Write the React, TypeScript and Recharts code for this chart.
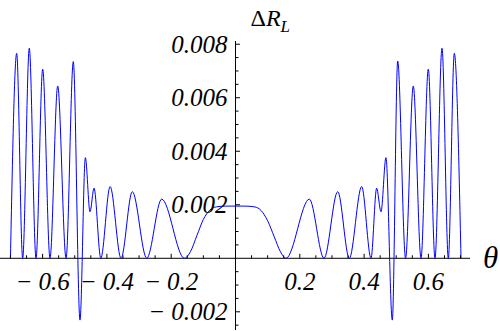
import { LineChart, Line, XAxis, YAxis, ReferenceLine, ReferenceDot } from "recharts";

// ΔR_L against θ (zeros, peaks, local minima)
const theta = [
  -0.7, -0.6806, -0.662, -0.6414, -0.6205, -0.5997, -0.577, -0.553, -0.527, -0.5045,
  -0.4837, -0.467, -0.4526, -0.44, -0.419, -0.39, -0.356, -0.321, -0.276, -0.2296,
  -0.159, -0.14, -0.12, -0.1, -0.08, -0.06, -0.03, 0, 0.03, 0.06, 0.08, 0.1, 0.12, 0.14,
  0.157, 0.2296, 0.2753, 0.318, 0.354, 0.3925, 0.4215, 0.439, 0.4526, 0.468, 0.4877,
  0.5045, 0.529, 0.553, 0.577, 0.5997, 0.6205, 0.6423, 0.662, 0.6806, 0.7014,
];
const deltaR = [
  0, 0.00766, 0, 0.00785, 0, 0.00707, 0, 0.00644, 0, 0.00735,
  -0.00231, 0.00376, 0.00174, 0.00262, 0, 0.00268, 0, 0.00249, 0, 0.00221,
  0, 0.00025, 0.00085, 0.00145, 0.0018, 0.00192, 0.00195, 0.00195, 0.00195, 0.00192, 0.00178, 0.0014, 0.00082, 0.00024,
  0, 0.00221, 0, 0.00249, 0, 0.00268, 0, 0.00262, 0.00174, 0.00376, -0.00231,
  0.00737, 0, 0.00644, 0, 0.00707, 0, 0.00785, 0, 0.00766, 0,
];

const xMajor = [-0.6, -0.4, -0.2, 0.2, 0.4, 0.6];
const xMajorLabels = ["−0.6", "−0.4", "−0.2", "0.2", "0.4", "0.6"];
const xMinor = [
  -0.7, -0.65, -0.55, -0.5, -0.45, -0.35, -0.3, -0.25, -0.15, -0.1, -0.05,
  0.05, 0.1, 0.15, 0.25, 0.3, 0.35, 0.45, 0.5, 0.55, 0.65, 0.7,
];
const yMajor = [-0.002, 0.002, 0.004, 0.006, 0.008];
const yMajorLabels = ["−0.002", "0.002", "0.004", "0.006", "0.008"];
const yMinor = [
  -0.0025, -0.0015, -0.001, -0.0005, 0.0005, 0.001, 0.0015, 0.0025, 0.003, 0.0035,
  0.0045, 0.005, 0.0055, 0.0065, 0.007, 0.0075,
];

const X_DOMAIN: [number, number] = [-0.7325, 0.7294];
const Y_DOMAIN: [number, number] = [-0.00268, 0.00812];

const data = theta.map((t, i) => ({ t, v: deltaR[i] }));

const SERIF = "Times New Roman, Liberation Serif, Times, Nimbus Roman, DejaVu Serif, serif";

function TickLabel({ x, y, text, anchor }: { x: number; y: number; text: string; anchor: "middle" | "end" }) {
  const neg = text.startsWith("−");
  return (
    <text x={x} y={y} textAnchor={anchor} fontFamily={SERIF} fontStyle="italic" fontSize={25} fill="#000">
      {neg ? (
        <>
          <tspan>−</tspan>
          <tspan dx={6}>{text.slice(1)}</tspan>
        </>
      ) : (
        text
      )}
    </text>
  );
}

const xTick = (len: number, label?: string) => (p: any) => (
  <g>
    <line x1={p.cx} x2={p.cx} y1={p.cy} y2={p.cy - len} stroke="#000" strokeWidth={1} />
    {label && <TickLabel x={p.cx} y={p.cy + 31.5} text={label} anchor="middle" />}
  </g>
);

const yTick = (len: number, label?: string) => (p: any) => (
  <g>
    <line x1={p.cx} x2={p.cx + len} y1={p.cy} y2={p.cy} stroke="#000" strokeWidth={1} />
    {label && <TickLabel x={p.cx - 8} y={p.cy + 8.5} text={label} anchor="end" />}
  </g>
);

const yAxisTitle = (p: any) => (
  <text x={p.cx + 15} y={p.cy - 15} fontFamily={SERIF} fontSize={24} fill="#000">
    Δ<tspan fontStyle="italic">R</tspan>
    <tspan fontStyle="italic" fontSize={17} dy={6}>L</tspan>
  </text>
);

const xAxisTitle = (p: any) => (
  <text x={p.cx + 13} y={p.cy + 10} fontFamily={SERIF} fontStyle="italic" fontSize={31} fill="#000">
    θ
  </text>
);

export default function App() {
  return (
    <div style={{ position: "absolute", left: 0, top: 0, width: 500, height: 331, background: "#fff" }}>
      <LineChart width={500} height={331} data={data} margin={{ top: 41, right: 30, bottom: 1, left: 0 }}>
        <XAxis dataKey="t" type="number" domain={X_DOMAIN} allowDataOverflow hide />
        <YAxis type="number" domain={Y_DOMAIN} allowDataOverflow hide />
        <ReferenceLine y={0} stroke="#000" strokeWidth={1} ifOverflow="visible" />
        <ReferenceLine x={0} stroke="#000" strokeWidth={1} ifOverflow="visible" />
        {xMinor.map((t) => (
          <ReferenceDot key={`xm${t}`} x={t} y={0} r={0} ifOverflow="visible" shape={xTick(3)} />
        ))}
        {xMajor.map((t, i) => (
          <ReferenceDot key={`xM${t}`} x={t} y={0} r={0} ifOverflow="visible" shape={xTick(4.5, xMajorLabels[i])} />
        ))}
        {yMinor.map((v) => (
          <ReferenceDot key={`ym${v}`} x={0} y={v} r={0} ifOverflow="visible" shape={yTick(3)} />
        ))}
        {yMajor.map((v, i) => (
          <ReferenceDot key={`yM${v}`} x={0} y={v} r={0} ifOverflow="visible" shape={yTick(4.5, yMajorLabels[i])} />
        ))}
        <ReferenceDot x={0} y={Y_DOMAIN[1]} r={0} ifOverflow="visible" shape={yAxisTitle} />
        <ReferenceDot x={X_DOMAIN[1]} y={0} r={0} ifOverflow="visible" shape={xAxisTitle} />
        <Line
          dataKey="v"
          type="monotone"
          stroke="#0000ff"
          strokeWidth={1}
          dot={false}
          activeDot={false}
          isAnimationActive={false}
        />
      </LineChart>
    </div>
  );
}
